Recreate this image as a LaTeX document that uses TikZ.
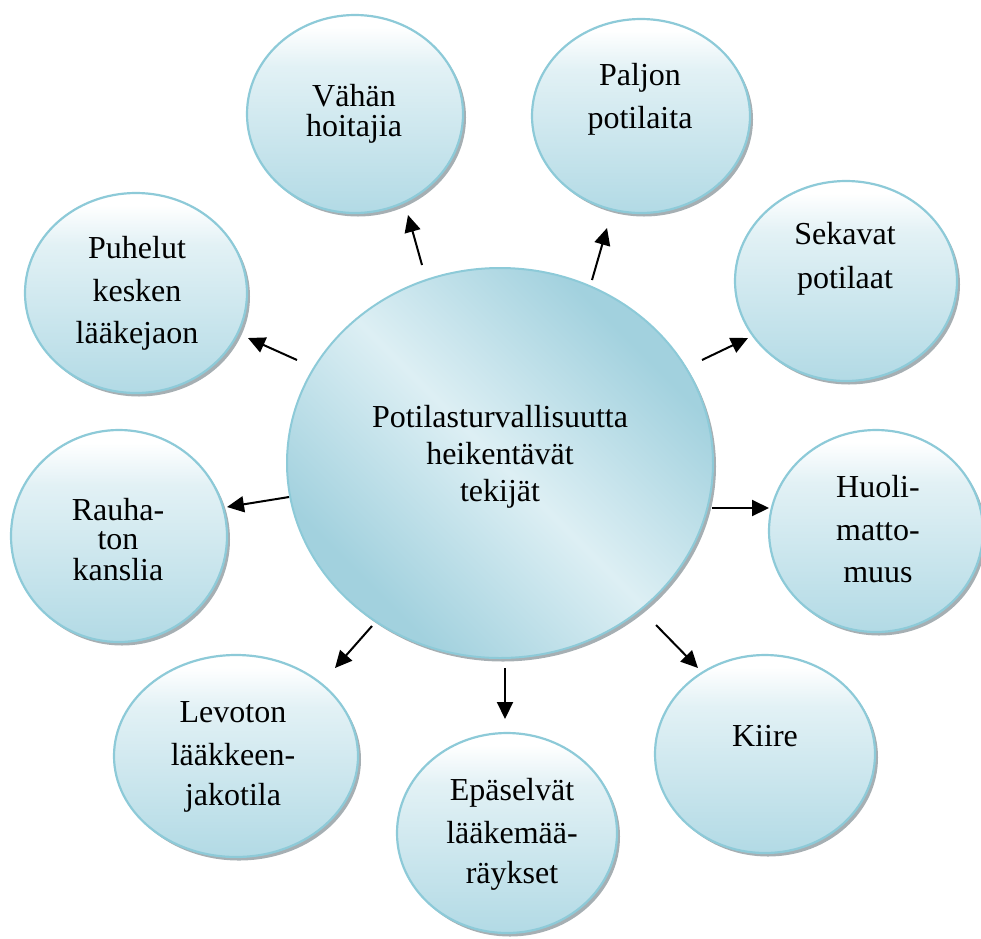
\documentclass[tikz,border=0pt]{standalone}
\usepackage{fontspec}
\setmainfont{Liberation Serif}
\usetikzlibrary{arrows.meta,shapes.geometric,shadows,shadings}
\definecolor{bordc}{HTML}{8DCAD8}
\definecolor{botc}{HTML}{B2DAE5}
\definecolor{midc}{HTML}{E2F1F5}
\definecolor{shadc}{HTML}{A6AFB3}
\definecolor{cdark}{HTML}{A2D1DE}
\definecolor{clight}{HTML}{DDEFF4}
\pgfdeclareverticalshading{outshade}{100bp}{color(0bp)=(botc); color(25bp)=(botc); color(62bp)=(midc); color(72bp)=(white); color(100bp)=(white)}
\pgfdeclarehorizontalshading{centershade}{100bp}{color(0bp)=(cdark); color(28bp)=(cdark); color(50bp)=(clight); color(72bp)=(cdark); color(100bp)=(cdark)}
\begin{document}
\begin{tikzpicture}[x=1pt,y=-1pt,
  bubble/.style={ellipse, draw=bordc, line width=2.2pt, shade, shading=outshade, inner sep=0pt,
    drop shadow={shadow xshift=3pt, shadow yshift=-3.5pt, fill=shadc, opacity=1}},
  hub/.style={ellipse, draw=bordc, line width=2pt, shade, shading=centershade, shading angle=45, inner sep=0pt,
    drop shadow={shadow xshift=3pt, shadow yshift=-3.5pt, fill=shadc, opacity=1}},
  txt/.style={anchor=base, inner sep=0pt, font=\fontsize{32}{38}\selectfont},
  arr/.style={line width=2pt, -{Triangle[length=17pt,width=16pt]}}]
\useasboundingbox (0,0) rectangle (981,938);

% outer bubbles
\node[bubble, minimum width=216pt, minimum height=198pt] (n1) at (355,114) {};
\node[bubble, minimum width=218pt, minimum height=194pt] (n2) at (641,116) {};
\node[bubble, minimum width=222pt, minimum height=200pt] (n3) at (846,281) {};
\node[bubble, minimum width=214pt, minimum height=202pt] (n4) at (876,531) {};
\node[bubble, minimum width=220pt, minimum height=198pt] (n5) at (765,754) {};
\node[bubble, minimum width=220pt, minimum height=200pt] (n6) at (507,833) {};
\node[bubble, minimum width=244pt, minimum height=202pt] (n7) at (236,756) {};
\node[bubble, minimum width=216pt, minimum height=212pt] (n8) at (119,536) {};
\node[bubble, minimum width=222pt, minimum height=200pt] (n9) at (136,293) {};

% hub
\node[hub, minimum width=426pt, minimum height=390pt] (c) at (500,463) {};

% texts
\node[txt] (t0a) at (500,427) {Potilasturvallisuutta};
\node[txt] (t0b) at (500,464) {heikentävät};
\node[txt] (t0c) at (500,501) {tekijät};

\node[txt] (t1a) at (354,106) {Vähän};
\node[txt] (t1b) at (354,136) {hoitajia};

\node[txt] (t2a) at (640,85) {Paljon};
\node[txt] (t2b) at (640,128) {potilaita};

\node[txt] (t3a) at (845,244) {Sekavat};
\node[txt] (t3b) at (845,288) {potilaat};

\node[txt] (t4a) at (878,497) {Huoli-};
\node[txt] (t4b) at (878,540) {matto-};
\node[txt] (t4c) at (878,582) {muus};

\node[txt] (t5a) at (765,746) {Kiire};

\node[txt] (t6a) at (512,800) {Epäselvät};
\node[txt] (t6b) at (512,843) {lääkemää-};
\node[txt] (t6c) at (512,883) {räykset};

\node[txt] (t7a) at (233,722) {Levoton};
\node[txt] (t7b) at (233,765) {lääkkeen-};
\node[txt] (t7c) at (233,805) {jakotila};

\node[txt] (t8a) at (118,520) {Rauha-};
\node[txt] (t8b) at (118,549) {ton};
\node[txt] (t8c) at (118,580) {kanslia};

\node[txt] (t9a) at (137,258) {Puhelut};
\node[txt] (t9b) at (137,301) {kesken};
\node[txt] (t9c) at (137,343) {lääkejaon};

% arrow end points
\coordinate (s1) at (422,265); \coordinate (e1) at (408,215);
\coordinate (s2) at (592,280); \coordinate (e2) at (607,228);
\coordinate (s3) at (702,360); \coordinate (e3) at (748,338);
\coordinate (s4) at (712,508); \coordinate (e4) at (769,508);
\coordinate (s5) at (656,625); \coordinate (e5) at (698,668);
\coordinate (s6) at (505,668); \coordinate (e6) at (505,719);
\coordinate (s7) at (372,626); \coordinate (e7) at (335,668);
\coordinate (s8) at (289,497); \coordinate (e8) at (227,507);
\coordinate (s9) at (297,360); \coordinate (e9) at (248,338);

\foreach \i in {1,...,9} {\draw[arr] (s\i) -- (e\i);}
\end{tikzpicture}
\end{document}
